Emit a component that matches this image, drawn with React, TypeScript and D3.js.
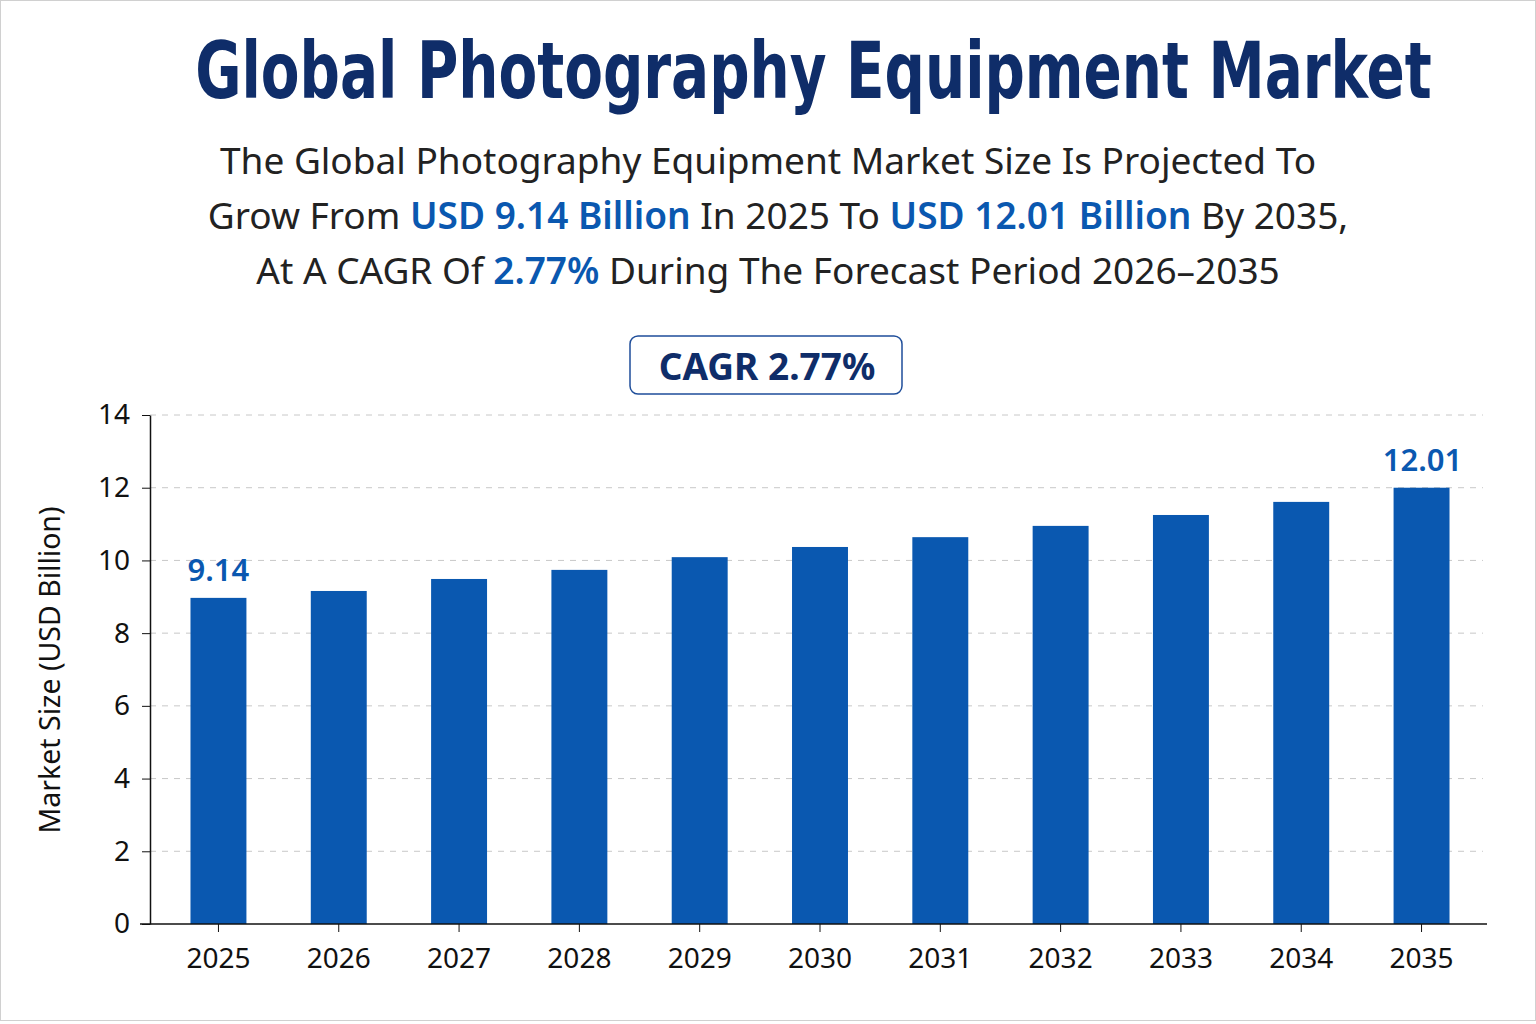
import * as d3 from 'd3';
import React, { useRef, useEffect } from 'react';

const years = ['2025', '2026', '2027', '2028', '2029', '2030', '2031', '2032', '2033', '2034', '2035'];
const marketSize = [8.97, 9.16, 9.49, 9.74, 10.09, 10.37, 10.64, 10.95, 11.25, 11.61, 12.0];
const valueLabels = ['9.14', '', '', '', '', '', '', '', '', '', '12.01'];
const yTicks = [0, 2, 4, 6, 8, 10, 12, 14];

const W = 1536;
const H = 1024;
const NAVY = '#0f2d69';
const BLUE = '#0a58b0';
const FONT = "'Noto Sans', 'Open Sans', sans-serif";

function App() {
  const ref = useRef<SVGSVGElement>(null);

  useEffect(() => {
    document.body.style.margin = '0';
    const svg = d3.select(ref.current);
    svg.selectAll('*').remove();

    svg.append('rect').attr('width', W).attr('height', H).attr('fill', '#fff');
    svg.append('rect')
      .attr('x', 0.5).attr('y', 0.5).attr('width', W - 1).attr('height', H - 4)
      .attr('fill', 'none').attr('stroke', '#d0d0d0');

    // title: tall bold glyphs squeezed horizontally to about 1237px
    const titleG = svg.append('g');
    const title = titleG.append('text')
      .attr('x', 0).attr('y', 0)
      .attr('text-anchor', 'middle')
      .attr('font-family', "'DejaVu Sans', 'Noto Sans', sans-serif")
      .attr('font-weight', 700)
      .attr('font-size', 79)
      .attr('fill', NAVY)
      .text('Global Photography Equipment Market');
    const tw = (title.node() as SVGTextElement).getComputedTextLength();
    const sx = tw > 0 ? 1237 / tw : 1;
    titleG.attr('transform', `translate(813.5,98) scale(${sx},1)`);

    // subtitle
    const lines: [string, boolean][][] = [
      [['The Global Photography Equipment Market Size Is Projected To', false]],
      [['Grow From ', false], ['USD 9.14 Billion', true], [' In 2025 To ', false], ['USD 12.01 Billion', true], [' By 2035,', false]],
      [['At A CAGR Of ', false], ['2.77%', true], [' During The Forecast Period 2026–2035', false]],
    ];
    const centers = [768, 778, 768];
    lines.forEach((parts, i) => {
      const t = svg.append('text')
        .attr('x', centers[i]).attr('y', 174 + i * 55)
        .attr('text-anchor', 'middle')
        .attr('font-family', FONT)
        .attr('font-size', 37)
        .attr('fill', '#222');
      parts.forEach(([s, hl]) => {
        t.append('tspan')
          .attr('fill', hl ? BLUE : '#222')
          .attr('font-weight', hl ? 600 : 400)
          .text(s);
      });
    });

    // CAGR box
    svg.append('rect')
      .attr('x', 630).attr('y', 336).attr('width', 272).attr('height', 58)
      .attr('rx', 8).attr('fill', '#fff').attr('stroke', '#1f4e9a').attr('stroke-width', 1.5);
    svg.append('text')
      .attr('x', 767).attr('y', 380)
      .attr('text-anchor', 'middle')
      .attr('font-family', FONT)
      .attr('font-weight', 700)
      .attr('font-size', 37)
      .attr('fill', NAVY)
      .text('CAGR 2.77%');

    // chart
    const left = 150, right = 1487, top = 415, bottom = 924;
    const x = d3.scaleBand().domain(years).range([158, 1482]).paddingInner(0.535).paddingOuter(0.27);
    const y = d3.scaleLinear().domain([0, 14]).range([bottom, top]);

    const g = svg.append('g');

    g.selectAll('.grid').data(yTicks.filter((d) => d > 0)).enter()
      .append('line')
      .attr('x1', left).attr('x2', 1483)
      .attr('y1', (d) => y(d)).attr('y2', (d) => y(d))
      .attr('stroke', '#c8c8c8').attr('stroke-dasharray', '6,6').attr('stroke-width', 1);

    g.selectAll('.bar').data(marketSize).enter()
      .append('rect')
      .attr('x', (_, i) => x(years[i])!)
      .attr('width', x.bandwidth())
      .attr('y', (d) => y(d))
      .attr('height', (d) => bottom - y(d))
      .attr('fill', BLUE);

    g.selectAll('.vlabel').data(marketSize).enter()
      .append('text')
      .attr('x', (_, i) => x(years[i])! + x.bandwidth() / 2 + (i === 10 ? 1 : 0))
      .attr('y', (d) => y(d) - 17)
      .attr('text-anchor', 'middle')
      .attr('font-family', FONT)
      .attr('font-weight', 600)
      .attr('font-size', 31)
      .attr('fill', BLUE)
      .text((_, i) => valueLabels[i]);

    // y axis
    const yAxis = g.append('g')
      .attr('transform', `translate(${left},0)`)
      .call(d3.axisLeft(y).tickValues(yTicks).tickSize(8).tickSizeOuter(0).tickPadding(12));
    yAxis.select('.domain').attr('stroke', '#111').attr('stroke-width', 1.5);
    yAxis.selectAll('line').attr('stroke', '#111');
    yAxis.selectAll('text').attr('font-family', FONT).attr('font-size', 28).attr('fill', '#111');

    // x axis
    const xAxis = g.append('g')
      .attr('transform', `translate(0,${bottom})`)
      .call(d3.axisBottom(x).tickSize(8).tickSizeOuter(0).tickPadding(16));
    xAxis.select('.domain').attr('d', `M${140},0H${right}`).attr('stroke', '#111').attr('stroke-width', 1.5);
    xAxis.selectAll('line').attr('stroke', '#111');
    xAxis.selectAll('text').attr('font-family', FONT).attr('font-size', 28).attr('fill', '#111');

    svg.append('text')
      .attr('transform', `translate(60,${670}) rotate(-90)`)
      .attr('text-anchor', 'middle')
      .attr('font-family', FONT)
      .attr('font-size', 28.5)
      .attr('fill', '#111')
      .text('Market Size (USD Billion)');
  }, []);

  return <svg ref={ref} width={W} height={H} style={{ display: 'block' }} />;
}

export default App;
